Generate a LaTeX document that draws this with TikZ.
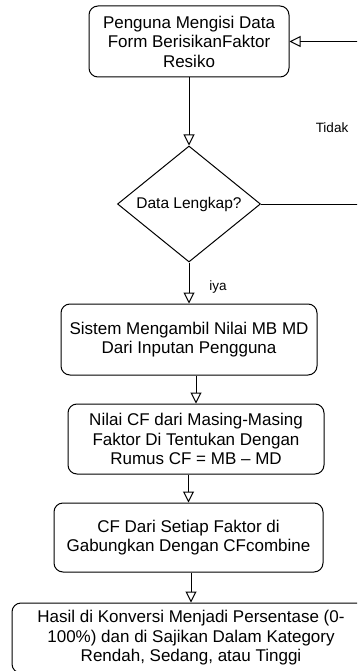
\documentclass[tikz,border=0pt]{standalone}
\usepackage{fontspec}
\setmainfont{Liberation Sans}
\usetikzlibrary{arrows.meta,shapes.geometric,calc}
\begin{document}
\begin{tikzpicture}[x=1pt,y=-1pt,
  box/.style={draw, rounded corners=9pt, line width=1pt, align=center,
    font=\fontsize{17}{19.5}\selectfont, inner sep=0pt},
  flow/.style={draw, line width=1pt, -{Triangle[open, length=11pt, width=11pt]}},
  lbl/.style={font=\fontsize{13.5}{16}\selectfont, inner sep=0pt}]
\useasboundingbox (0,0) rectangle (357,671);
\clip (0,0) rectangle (357,671);
\fill[white] (0,0) rectangle (357,671);

\node[box, minimum width=200pt, minimum height=71pt] (b1) at (189,41.5)
  {Penguna Mengisi Data\\Form BerisikanFaktor\\Resiko};
\node[diamond, draw, line width=1pt, inner sep=0pt,
  minimum width=143pt, minimum height=116pt] (dec) at (189,204) {};
\node[font=\fontsize{15.5}{18}\selectfont, inner sep=0pt] (dect) at (dec) {Data Lengkap?};
\node[box, minimum width=256pt, minimum height=71pt] (b2) at (189,339.5)
  {Sistem Mengambil Nilai MB MD\\Dari Inputan Pengguna};
\node[box, minimum width=256pt, minimum height=70pt] (b3) at (196,439)
  {Nilai CF dari Masing-Masing\\Faktor Di Tentukan Dengan\\Rumus CF = MB -- MD};
\node[box, minimum width=269pt, minimum height=69pt] (b4) at (188.5,537.5)
  {CF Dari Setiap Faktor di\\Gabungkan Dengan CFcombine};
\node[box, minimum width=358pt, minimum height=70pt] (b5) at (191,638)
  {Hasil di Konversi Menjadi Persentase (0-\\100\%) dan di Sajikan Dalam Kategory\\Rendah, Sedang, atau Tinggi};

\coordinate (rt) at (362,204);
\node[lbl] (tidak) at (332,128) {Tidak};
\node[lbl] (iya) at (218,287) {iya};

\draw[flow] (b1) -- (dec.north);
\draw[flow] (dec.south) -- (b2.north);
\draw[flow] (b2.south -| b3.north) -- (b3.north);
\draw[flow] (b3.south -| b4.north) -- (b4.north);
\draw[flow] (b4.south -| b5.north) -- (b5.north);
\draw[flow] (dec.east) -- (dec.east -| rt) -- (rt |- b1.east) -- (b1.east);
\end{tikzpicture}
\end{document}
